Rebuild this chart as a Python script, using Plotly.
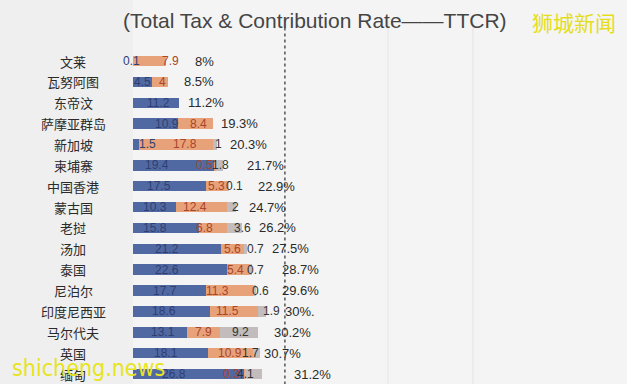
import plotly.graph_objects as go

countries = ["文莱", "瓦努阿图", "东帝汶", "萨摩亚群岛", "新加坡", "柬埔寨", "中国香港", "蒙古国",
             "老挝", "汤加", "泰国", "尼泊尔", "印度尼西亚", "马尔代夫", "英国", "缅甸"]
profit_tax = [0.1, 4.5, 11.2, 10.9, 1.5, 19.4, 17.5, 10.3, 15.8, 21.2, 22.6, 17.7, 18.6, 13.1, 18.1, 26.8]
labour_tax = [7.9, 4.0, 0, 8.4, 17.8, 0.5, 5.3, 12.4, 6.8, 5.6, 5.4, 11.3, 11.5, 7.9, 10.9, 0.3]
other_tax = [0, 0, 0, 0, 1.0, 1.8, 0.1, 2.0, 3.6, 0.7, 0.7, 0.6, 1.9, 9.2, 1.7, 4.1]
profit_lbl = ["0.1", "4.5", "11.2", "10.9", "1.5", "19.4", "17.5", "10.3", "15.8", "21.2", "22.6", "17.7", "18.6", "13.1", "18.1", "26.8"]
labour_lbl = ["7.9", "4", "", "8.4", "17.8", "0.5", "5.3", "12.4", "6.8", "5.6", "5.4", "11.3", "11.5", "7.9", "10.9", "0.3"]
other_lbl = ["", "", "", "", "1", "1.8", "0.1", "2", "3.6", "0.7", "0.7", "0.6", "1.9", "9.2", "1.7", "4.1"]
total_lbl = ["8%", "8.5%", "11.2%", "19.3%", "20.3%", "21.7%", "22.9%", "24.7%", "26.2%", "27.5%",
             "28.7%", "29.6%", "30%.", "30.2%", "30.7%", "31.2%"]
ref_line = [36.6]

# label pixel nudges (styling only, as laid out in the original slide)
shift_p = [-2, 0, 2, 11, 11, -16, -10, 1, -11, -10, -13, -5, -8, 3, -5, -15]
shift_l = [21, 3, 0, 3, 9, -10, 0, -6, -8, 0, -3, -12, -7, 0, -1, -13]
shift_o = [0, 0, 0, 0, 3, 1, 7, 4, 8, 10, 5, 6, 10, 1, -6, -8]
shift_t = [27, 14, 7, 6, 11, 22, 28, 11, 15, 23, 28, 24, 17, 14, 2, 30]

BLUE, ORANGE, GRAY = "#5169a3", "#e8a27a", "#c2bcbc"
FONT = "Liberation Sans, Arial, sans-serif"
CJK = "Noto Sans CJK SC, sans-serif"

W, H, L = 627, 384, 133
PW = W - L


def px(xp):
    return (xp - L) / PW


def py(yp):
    return 1 - yp / H


totals = [p + l + o for p, l, o in zip(profit_tax, labour_tax, other_tax)]

fig = go.Figure()
for vals, col in [(profit_tax, BLUE), (labour_tax, ORANGE), (other_tax, GRAY)]:
    fig.add_trace(go.Bar(y=countries, x=vals, orientation="h", marker=dict(color=col, line=dict(width=0)),
                         width=0.5, showlegend=False, hoverinfo="skip"))

mids_p = [p / 2 for p in profit_tax]
mids_l = [p + l / 2 for p, l in zip(profit_tax, labour_tax)]
mids_o = [p + l + o / 2 for p, l, o in zip(profit_tax, labour_tax, other_tax)]
for mids, lbls, shifts, col in [(mids_p, profit_lbl, shift_p, "#2f3f72"),
                                (mids_l, labour_lbl, shift_l, "#a8452a"),
                                (mids_o, other_lbl, shift_o, "#333333")]:
    for c, m, t, s in zip(countries, mids, lbls, shifts):
        if t:
            fig.add_annotation(x=m, y=c, xref="x", yref="y", text=t, showarrow=False,
                               xanchor="center", yanchor="middle", xshift=s,
                               font=dict(family=FONT, size=12, color=col))

for c, t, lbl, s in zip(countries, totals, total_lbl, shift_t):
    fig.add_annotation(x=t, y=c, xref="x", yref="y", text=lbl, showarrow=False, xanchor="left",
                       yanchor="middle", xshift=s, font=dict(family=FONT, size=13, color="#2a2a2a"))
    fig.add_annotation(x=px(73), y=c, xref="paper", yref="y", text=c, showarrow=False, xanchor="center",
                       yanchor="middle", font=dict(family=CJK, size=13, color="#2a2a2a"))

fig.add_shape(type="line", x0=ref_line[0], x1=ref_line[0], y0=-1.6, y1=15.6, xref="x", yref="y",
              line=dict(color="#555555", width=1.5, dash="3px,3px"))
for xp in [388, 473]:
    fig.add_shape(type="line", x0=px(xp), x1=px(xp), y0=0, y1=py(20), xref="paper", yref="paper",
                  line=dict(color="#e3e3e3", width=1))

fig.add_annotation(x=px(315), y=py(20), xref="paper", yref="paper", text="(Total Tax & Contribution Rate——TTCR)",
                   showarrow=False, xanchor="center", yanchor="middle",
                   font=dict(family=FONT, size=21, color="#454545"))
fig.add_annotation(x=px(574), y=py(22), xref="paper", yref="paper", text="狮城新闻",
                   showarrow=False, xanchor="center", yanchor="middle",
                   font=dict(family=CJK, size=21, color="#e4de1c"))
fig.add_annotation(x=px(10), y=py(368), xref="paper", yref="paper", text="shicheng.news",
                   showarrow=False, xanchor="left", yanchor="middle",
                   font=dict(family="DejaVu Sans Condensed, Liberation Sans, sans-serif",
                             size=23, color="#e6e41e"))

fig.update_layout(
    width=W, height=H, margin=dict(l=L, r=0, t=0, b=0),
    barmode="stack", bargap=0.5,
    paper_bgcolor="#efefef", plot_bgcolor="#f4f4f4",
    xaxis=dict(range=[0, PW / 4.15], visible=False, fixedrange=True),
    yaxis=dict(range=[15.477, -2.923], visible=False, categoryorder="array", categoryarray=countries),
)

fig.write_html("out.html", config={"responsive": False, "displayModeBar": False},
               post_script="document.body.style.margin='0';document.body.style.overflow='hidden';"
                           "document.body.style.background='#efefef';")
